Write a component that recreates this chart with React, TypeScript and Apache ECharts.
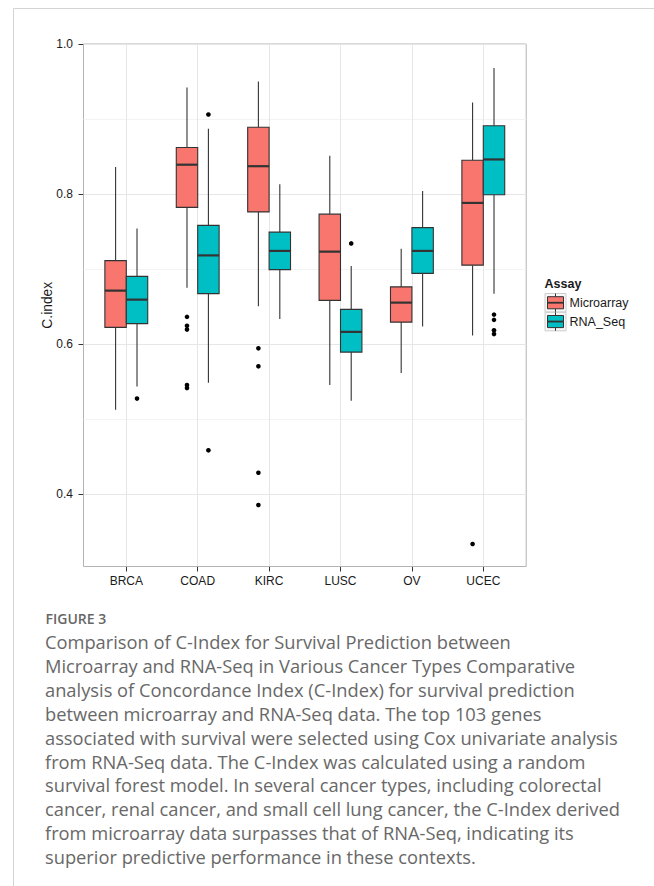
import React, { useEffect, useRef } from 'react';
import * as echarts from 'echarts';

// ---------- data ----------
const categories = ['BRCA', 'COAD', 'KIRC', 'LUSC', 'OV', 'UCEC'];
const assays = ['Microarray', 'RNA_Seq'];
const assayColors = ['#F8766D', '#00BFC4'];

// [lowerWhisker, q1, median, q3, upperWhisker] per category
const microarrayBoxes = [
  [0.512, 0.622, 0.671, 0.711, 0.836],
  [0.675, 0.782, 0.839, 0.862, 0.942],
  [0.650, 0.776, 0.837, 0.889, 0.950],
  [0.545, 0.658, 0.723, 0.773, 0.851],
  [0.561, 0.629, 0.655, 0.676, 0.727],
  [0.611, 0.705, 0.788, 0.845, 0.922],
];
const rnaSeqBoxes = [
  [0.543, 0.627, 0.659, 0.690, 0.754],
  [0.548, 0.667, 0.718, 0.758, 0.887],
  [0.633, 0.699, 0.724, 0.749, 0.813],
  [0.524, 0.589, 0.616, 0.646, 0.704],
  [0.623, 0.694, 0.724, 0.755, 0.804],
  [0.667, 0.799, 0.846, 0.891, 0.968],
];
// [categoryIndex, value]
const microarrayOutliers = [
  [1, 0.636], [1, 0.624], [1, 0.619], [1, 0.545], [1, 0.541],
  [2, 0.594], [2, 0.570], [2, 0.428], [2, 0.385],
  [5, 0.333],
];
const rnaSeqOutliers = [
  [0, 0.527],
  [1, 0.906], [1, 0.458],
  [3, 0.734],
  [5, 0.639], [5, 0.632], [5, 0.618], [5, 0.613],
];

const yMin = 0.303;
const yMax = 1.0;
const yMajorTicks = [0.4, 0.6, 0.8, 1.0];
const yMinorLines = [0.5, 0.7, 0.9];
const yAxisTitle = 'C.index';
const legendTitle = 'Assay';

const figureLabel = 'FIGURE 3';
const captionLines = [
  'Comparison of C-Index for Survival Prediction between',
  'Microarray and RNA-Seq in Various Cancer Types Comparative',
  'analysis of Concordance Index (C-Index) for survival prediction',
  'between microarray and RNA-Seq data. The top 103 genes',
  'associated with survival were selected using Cox univariate analysis',
  'from RNA-Seq data. The C-Index was calculated using a random',
  'survival forest model. In several cancer types, including colorectal',
  'cancer, renal cancer, and small cell lung cancer, the C-Index derived',
  'from microarray data surpasses that of RNA-Seq, indicating its',
  'superior predictive performance in these contexts.',
];

// ---------- style ----------
const FONT = '"Liberation Sans", Arial, Helvetica, sans-serif';
const CAPTION_FONT = '"Open Sans", "Noto Sans", sans-serif';
const DARK = '#333333';
const TEXT = '#1a1a1a';
const MAJOR_GRID = '#e6e6e6';
const MINOR_GRID = '#f3f3f3';

const BOX_WIDTH_FRAC = 0.3;
const BOX_OFFSET_FRAC = 0.15;

function makeBoxRender(sign: number, color: string) {
  return (params: any, api: any) => {
    const cat = api.value(0);
    const band = api.size([1, 0])[0];
    const w = band * BOX_WIDTH_FRAC;
    const cx = api.coord([cat, api.value(3)])[0] + sign * band * BOX_OFFSET_FRAC;
    const yLo = api.coord([cat, api.value(1)])[1];
    const yQ1 = api.coord([cat, api.value(2)])[1];
    const yMed = api.coord([cat, api.value(3)])[1];
    const yQ3 = api.coord([cat, api.value(4)])[1];
    const yHi = api.coord([cat, api.value(5)])[1];
    return {
      type: 'group',
      children: [
        { type: 'line', shape: { x1: cx, y1: yHi, x2: cx, y2: yQ3 }, style: { stroke: DARK, lineWidth: 1.1 } },
        { type: 'line', shape: { x1: cx, y1: yQ1, x2: cx, y2: yLo }, style: { stroke: DARK, lineWidth: 1.1 } },
        {
          type: 'rect',
          shape: { x: cx - w / 2, y: yQ3, width: w, height: yQ1 - yQ3 },
          style: { fill: color, stroke: DARK, lineWidth: 1.1 },
        },
        {
          type: 'line',
          shape: { x1: cx - w / 2, y1: yMed, x2: cx + w / 2, y2: yMed },
          style: { stroke: DARK, lineWidth: 2.2 },
        },
      ],
    };
  };
}

function makeOutlierRender(sign: number) {
  return (params: any, api: any) => {
    const cat = api.value(0);
    const band = api.size([1, 0])[0];
    const p = api.coord([cat, api.value(1)]);
    return {
      type: 'circle',
      shape: { cx: p[0] + sign * band * BOX_OFFSET_FRAC, cy: p[1], r: 2.3 },
      style: { fill: '#000000' },
    };
  };
}

function legendGraphic() {
  const x0 = 545;
  const children: any[] = [
    {
      type: 'text',
      style: {
        text: legendTitle, x: x0 - 0.5, y: 284, fill: TEXT, fontFamily: FONT,
        fontSize: 12.5, fontWeight: 'bold', align: 'left', verticalAlign: 'middle',
        textAlign: 'left', textVerticalAlign: 'middle',
      },
    },
  ];
  assays.forEach((name, i) => {
    const ky = 293.5 + i * 18.8;
    const kh = 18.5;
    const kw = 21;
    const cx = x0 + kw / 2;
    children.push(
      { type: 'rect', shape: { x: x0, y: ky, width: kw, height: kh }, style: { fill: '#f7f7f7', stroke: '#cccccc', lineWidth: 1 } },
      { type: 'line', shape: { x1: cx, y1: ky, x2: cx, y2: ky + kh }, style: { stroke: DARK, lineWidth: 1 } },
      { type: 'rect', shape: { x: x0 + 2.5, y: ky + 3.2, width: kw - 5, height: kh - 6.4 }, style: { fill: assayColors[i], stroke: DARK, lineWidth: 1 } },
      { type: 'line', shape: { x1: x0 + 2.5, y1: ky + kh / 2, x2: x0 + kw - 2.5, y2: ky + kh / 2 }, style: { stroke: DARK, lineWidth: 1.8 } },
      {
        type: 'text',
        style: {
          text: name, x: x0 + kw + 3.5, y: ky + kh / 2, fill: TEXT, fontFamily: FONT, fontSize: 12.5,
          align: 'left', verticalAlign: 'middle', textAlign: 'left', textVerticalAlign: 'middle',
        },
      },
    );
  });
  return { type: 'group', children };
}

function captionGraphic() {
  const children: any[] = [
    {
      type: 'text',
      style: {
        text: figureLabel, x: 45.5, y: 618.5, fill: '#666666', fontFamily: CAPTION_FONT,
        fontSize: 14, fontWeight: 600, align: 'left', verticalAlign: 'middle',
        textAlign: 'left', textVerticalAlign: 'middle',
      },
    },
  ];
  captionLines.forEach((line, i) => {
    children.push({
      type: 'text',
      style: {
        text: line, x: 45, y: 641.5 + i * 23.9, fill: '#686868', fontFamily: CAPTION_FONT,
        fontSize: 18.3, align: 'left', verticalAlign: 'middle', textAlign: 'left', textVerticalAlign: 'middle',
      },
    });
  });
  return { type: 'group', children };
}

export default function App() {
  const ref = useRef<HTMLDivElement>(null);

  useEffect(() => {
    if (!ref.current) return;
    const chart = echarts.init(ref.current, undefined, { renderer: 'svg' });

    const bandPx = 71.4;
    const firstCenter = 126.3;
    const panelLeft = 83.5;
    const panelRight = 526.2;
    const top = 44;
    const height = 522.5;
    const dataLeft = firstCenter - bandPx / 2;

    const option: any = {
      animation: false,
      backgroundColor: '#ffffff',
      grid: [
        { left: dataLeft, top, width: bandPx * categories.length, height, containLabel: false },
        {
          left: panelLeft, top, width: panelRight - panelLeft, height, show: true,
          borderColor: '#b3b3b3', borderWidth: 1, backgroundColor: 'transparent', z: 0,
        },
      ],
      xAxis: [
        {
          type: 'category', gridIndex: 0, data: categories, boundaryGap: true,
          axisLine: { show: false },
          axisTick: { show: true, alignWithLabel: true, length: 5, lineStyle: { color: DARK, width: 1 } },
          axisLabel: { fontFamily: FONT, fontSize: 12, color: TEXT, margin: 8 },
          splitLine: { show: false },
        },
        { type: 'value', gridIndex: 1, min: 0, max: 1, show: false },
      ],
      yAxis: [
        {
          type: 'value', gridIndex: 0, min: yMin, max: yMax, position: 'left', offset: dataLeft - panelLeft,
          axisLine: { show: false },
          axisTick: { show: true, length: 5, customValues: yMajorTicks, lineStyle: { color: DARK, width: 1 } },
          axisLabel: {
            customValues: yMajorTicks, fontFamily: FONT, fontSize: 12, color: TEXT, margin: 10.5,
            formatter: (v: number) => v.toFixed(1),
          },
          splitLine: { show: false },
          name: yAxisTitle, nameLocation: 'middle', nameGap: 29, nameRotate: 90,
          nameMoveOverlap: false,
          nameTextStyle: { fontFamily: FONT, fontSize: 13.8, color: TEXT },
        },
        {
          type: 'value', gridIndex: 1, min: yMin, max: yMax, show: false,
          splitLine: { show: false },
        },
      ],
      series: [
        {
          type: 'line', xAxisIndex: 1, yAxisIndex: 1, data: [], silent: true,
          markLine: {
            silent: true, symbol: ['none', 'none'], z: 1, animation: false,
            label: { show: false },
            data: [
              ...yMinorLines.map((v) => ({ yAxis: v, lineStyle: { color: MINOR_GRID, width: 1, type: 'solid' } })),
              ...yMajorTicks.map((v) => ({ yAxis: v, lineStyle: { color: MAJOR_GRID, width: 1, type: 'solid' } })),
            ],
          },
        },
        {
          type: 'line', xAxisIndex: 0, yAxisIndex: 0, data: [], silent: true,
          markLine: {
            silent: true, symbol: ['none', 'none'], z: 1, animation: false,
            label: { show: false },
            data: categories.map((c) => ({ xAxis: c, lineStyle: { color: MAJOR_GRID, width: 1, type: 'solid' } })),
          },
        },
        {
          name: assays[0], type: 'custom', xAxisIndex: 0, yAxisIndex: 0, z: 3,
          renderItem: makeBoxRender(-1, assayColors[0]),
          encode: { x: 0, y: [1, 2, 3, 4, 5] },
          data: microarrayBoxes.map((b, i) => [i, ...b]),
        },
        {
          name: assays[1], type: 'custom', xAxisIndex: 0, yAxisIndex: 0, z: 3,
          renderItem: makeBoxRender(1, assayColors[1]),
          encode: { x: 0, y: [1, 2, 3, 4, 5] },
          data: rnaSeqBoxes.map((b, i) => [i, ...b]),
        },
        {
          name: assays[0] + ' outliers', type: 'custom', xAxisIndex: 0, yAxisIndex: 0, z: 4,
          renderItem: makeOutlierRender(-1),
          encode: { x: 0, y: 1 },
          data: microarrayOutliers,
        },
        {
          name: assays[1] + ' outliers', type: 'custom', xAxisIndex: 0, yAxisIndex: 0, z: 4,
          renderItem: makeOutlierRender(1),
          encode: { x: 0, y: 1 },
          data: rnaSeqOutliers,
        },
      ],
      graphic: [
        {
          type: 'rect', z: -10, silent: true,
          shape: { x: 13.5, y: 8.5, width: 700, height: 900 },
          style: { fill: 'none', stroke: '#d4d4d4', lineWidth: 1 },
        },
        legendGraphic(),
        captionGraphic(),
      ],
    };

    chart.setOption(option);
    return () => chart.dispose();
  }, []);

  return (
    <div
      ref={ref}
      style={{ position: 'absolute', left: 0, top: 0, width: 654, height: 886, background: '#ffffff' }}
    />
  );
}
